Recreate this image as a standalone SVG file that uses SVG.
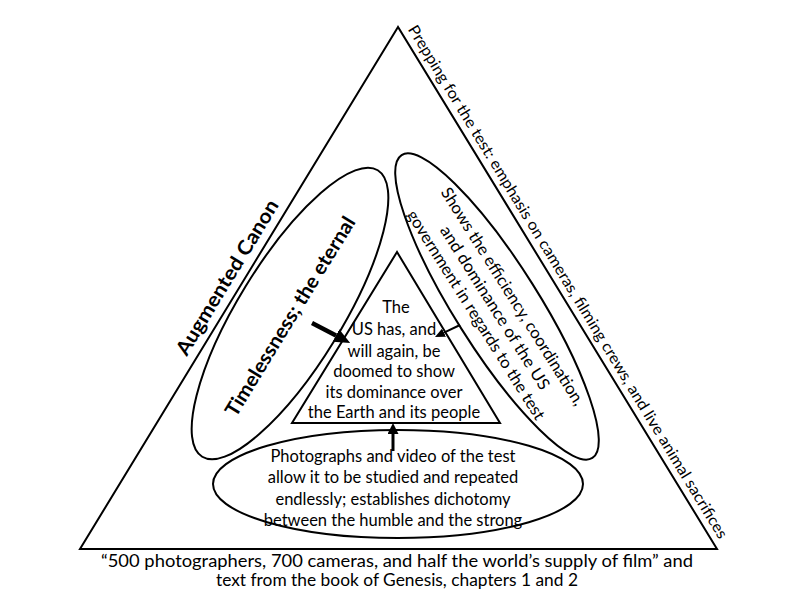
<svg xmlns="http://www.w3.org/2000/svg" width="800" height="600" viewBox="0 0 800 600">
<style>
.shape{fill:none;stroke:#000;stroke-width:2}
.t{font-family:Lato,"Liberation Sans",sans-serif;font-size:16.5px;fill:#000;text-anchor:middle}
.b{font-weight:bold;font-size:20px}
.conn{stroke:#000;fill:none}
</style>
<defs>
<marker id="headBig" markerUnits="userSpaceOnUse" viewBox="0 0 16 14" refX="0" refY="7" markerWidth="16" markerHeight="14" orient="auto"><path d="M0,0 L16,7 L0,14 z" fill="#000"/></marker>
<marker id="headSmall" markerUnits="userSpaceOnUse" viewBox="0 0 10 9" refX="0" refY="4.5" markerWidth="10" markerHeight="9" orient="auto"><path d="M0,0 L10,4.5 L0,9 z" fill="#000"/></marker>
<marker id="headMid" markerUnits="userSpaceOnUse" viewBox="0 0 11 11" refX="0" refY="5.5" markerWidth="11" markerHeight="11" orient="auto"><path d="M0,0 L11,5.5 L0,11 z" fill="#000"/></marker>
</defs>
<rect width="800" height="600" fill="#fff"/>

<g id="outer-triangle">
<polygon class="shape" points="398,27 80,549 717,549" stroke-width="2.3"/>
<text class="t b" transform="translate(233,281) rotate(-58.6)" textLength="178" lengthAdjust="spacingAndGlyphs">Augmented Canon</text>
<text class="t" transform="translate(398,27) rotate(58.6)" x="306" y="-7" style="font-size:15.5px" textLength="598" lengthAdjust="spacingAndGlyphs">Prepping for the test: emphasis on cameras, filming crews, and live animal sacrifices</text>
<text class="t" x="397" y="567" textLength="592" lengthAdjust="spacingAndGlyphs">“500 photographers, 700 cameras, and half the world’s supply of film” and</text>
<text class="t" x="397" y="586" textLength="362" lengthAdjust="spacingAndGlyphs">text from the book of Genesis, chapters 1 and 2</text>
</g>

<g id="timelessness">
<ellipse class="shape" cx="0" cy="0" rx="168" ry="52" transform="translate(290,313.5) rotate(-58.5)"/>
<text class="t b" transform="translate(296,320) rotate(-58.5)" textLength="230" lengthAdjust="spacingAndGlyphs">Timelessness; the eternal</text>
</g>

<g id="efficiency">
<ellipse class="shape" cx="0" cy="0" rx="179" ry="42" transform="translate(497,306.5) rotate(57.8)"/>
<g transform="translate(497,306.5) rotate(57.8)">
<text class="t" x="0" y="-13" textLength="254" lengthAdjust="spacingAndGlyphs">Shows the efficiency, coordination,</text>
<text class="t" x="0" y="8" textLength="190" lengthAdjust="spacingAndGlyphs">and dominance of the US</text>
<text class="t" x="-4" y="28" textLength="244" lengthAdjust="spacingAndGlyphs">government in regards to the test</text>
</g>
</g>

<g id="photographs">
<ellipse class="shape" cx="398" cy="484" rx="185" ry="54"/>
<text class="t" x="393" y="462">Photographs and video of the test</text>
<text class="t" x="393" y="483">allow it to be studied and repeated</text>
<text class="t" x="393" y="505">endlessly; establishes dichotomy</text>
<text class="t" x="393" y="526">between the humble and the strong</text>
</g>

<g id="center">
<polygon class="shape" points="397,252 292,423 500,423" stroke-width="2.3"/>
<text class="t" x="396" y="313">The</text>
<text class="t" x="394" y="335">US has, and</text>
<text class="t" x="394" y="357">will again, be</text>
<text class="t" x="394" y="377">doomed to show</text>
<text class="t" x="394" y="398">its dominance over</text>
<text class="t" x="394" y="418">the Earth and its people</text>
</g>

<g id="connectors">
<line class="conn" x1="312" y1="323" x2="336" y2="335.5" stroke-width="4.5" marker-end="url(#headBig)"/>
<line class="conn" x1="460" y1="325" x2="444" y2="332.7" stroke-width="2" marker-end="url(#headSmall)"/>
<line class="conn" x1="393" y1="451" x2="393" y2="434" stroke-width="3" marker-end="url(#headMid)"/>
</g>
</svg>
